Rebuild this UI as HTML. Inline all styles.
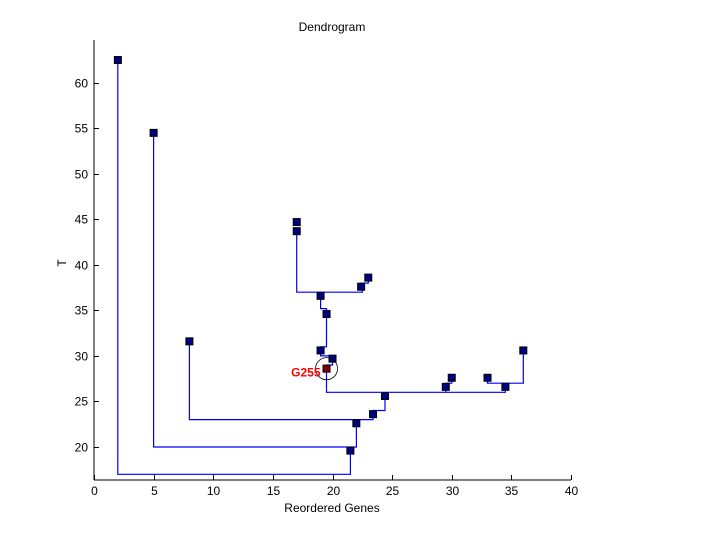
<!DOCTYPE html>
<html><head><meta charset="utf-8"><style>
body{margin:0;background:#fff}
svg text{font-family:"Liberation Sans",sans-serif;font-size:12px}
</style></head><body>
<svg id="chart" width="720" height="540">
<rect width="720" height="540" fill="#fff"/>
<text x="332" y="31" text-anchor="middle">Dendrogram</text>
<text x="332" y="512" text-anchor="middle">Reordered Genes</text>
<text x="0" y="0" transform="translate(66,263) rotate(-90)" text-anchor="middle">T</text>
<g id="axes"></g><g id="links"></g><g id="marks"></g>
</svg>
<script>
const xTicks=[0,5,10,15,20,25,30,35,40];
const yTicks=[20,25,30,35,40,45,50,55,60];
const geneX=[2,5,8,17,17,23,22.4,19,19.5,19,20,19.5,24.4,23.4,22,21.5,30,29.5,33,34.5,36];
const geneT=[62.5,54.5,31.6,44.7,43.7,38.6,37.6,36.6,34.6,30.6,29.7,28.6,25.6,23.6,22.6,19.6,27.6,26.6,27.6,26.6,30.6];
const highlightIndex=11;
const highlightLabel="G255";
const link1=[2,62.5,2,17,21.5,17,21.5,19.6];
const link2=[5,54.5,5,20,22,20,22,23];
const link3=[8,31.6,8,23,23.4,23,23.4,23.6];
const link4=[24.4,25.6,24.4,24,23.4,24,23.4,23.6];
const link5=[19.5,28.6,19.5,26,34.5,26,34.5,26.6];
const link6=[24.4,25.6,24.4,26];
const link7=[29.5,26.6,29.5,26];
const link8=[30,27.6,30,27,29.5,27,29.5,26.6];
const link9=[33,27.6,33,27,36,27,36,30.6];
const link10=[34.5,26.6,34.5,27];
const link11=[20,29.7,20,29,19.5,29,19.5,28.6];
const link12=[19,30.6,19,30,20,30,20,29.7];
const link13=[19.5,34.6,19.5,31,19,31,19,30.6];
const link14=[19,36.6,19,35.2,19.5,35.2,19.5,34.6];
const link15=[17,43.7,17,37,22.5,37,22.5,37.6];
const link16=[19,36.6,19,37];
const link17=[23,38.6,23,38,22.4,38,22.4,37.6];
const links=[link1,link2,link3,link4,link5,link6,link7,link8,link9,link10,link11,link12,link13,link14,link15,link16,link17];

const X0=94,X1=571,Y0=480,Y1=40,xmin=0,xmax=40,tmin=16.37,tmax=64.7;
const sx=v=>X0+(v-xmin)/(xmax-xmin)*(X1-X0);
const sy=v=>Y0-(v-tmin)/(tmax-tmin)*(Y0-Y1);
const NS="http://www.w3.org/2000/svg";
function mk(t,a,p){const e=document.createElementNS(NS,t);for(const k in a)e.setAttribute(k,a[k]);p.appendChild(e);return e;}
const ax=document.getElementById('axes');
let e=mk('line',{x1:X0,y1:Y1,x2:X0,y2:Y0,stroke:'#000'},ax);


e=mk('line',{x1:X0,y1:Y0,x2:X1,y2:Y0,stroke:'#000'},ax);


xTicks.forEach(v=>{const x=Math.round(sx(v))+0.5;
 mk('line',{x1:x,y1:Y0,x2:x,y2:Y0-5,stroke:'#000'},ax);
 const t=mk('text',{x:x,y:Y0+15,'text-anchor':'middle'},ax);t.textContent=v;
 
 });
yTicks.forEach(v=>{const y=Math.round(sy(v))+0.5;
 mk('line',{x1:X0,y1:y,x2:X0+5,y2:y,stroke:'#000'},ax);
 const t=mk('text',{x:X0-6,y:y+4,'text-anchor':'end'},ax);t.textContent=v;
 
 });
const lg=document.getElementById('links');
links.forEach(l=>{let pts=[];for(let i=0;i<l.length;i+=2)pts.push(sx(l[i]).toFixed(1)+','+sy(l[i+1]).toFixed(1));
 const p=mk('polyline',{points:pts.join(' '),fill:'none',stroke:'#0000ff','stroke-width':1.2},lg);
 
 });
const mg=document.getElementById('marks');
geneX.forEach((gx,i)=>{const x=sx(gx),y=sy(geneT[i]);
 const r=mk('rect',{x:x-3.5,y:y-3.5,width:7,height:7,fill:i===highlightIndex?'#800000':'#000080',stroke:'#000','stroke-width':1},mg);
 
 });
const hx=sx(geneX[highlightIndex]),hy=sy(geneT[highlightIndex]);
const c=mk('circle',{cx:hx,cy:hy,r:11,fill:'none',stroke:'#000','stroke-width':0.8},mg);


const lb=mk('text',{x:hx-6,y:hy+8,'text-anchor':'end',fill:'#ff0000','font-weight':'bold'},mg);
lb.textContent=highlightLabel;


</script>
</body></html>
